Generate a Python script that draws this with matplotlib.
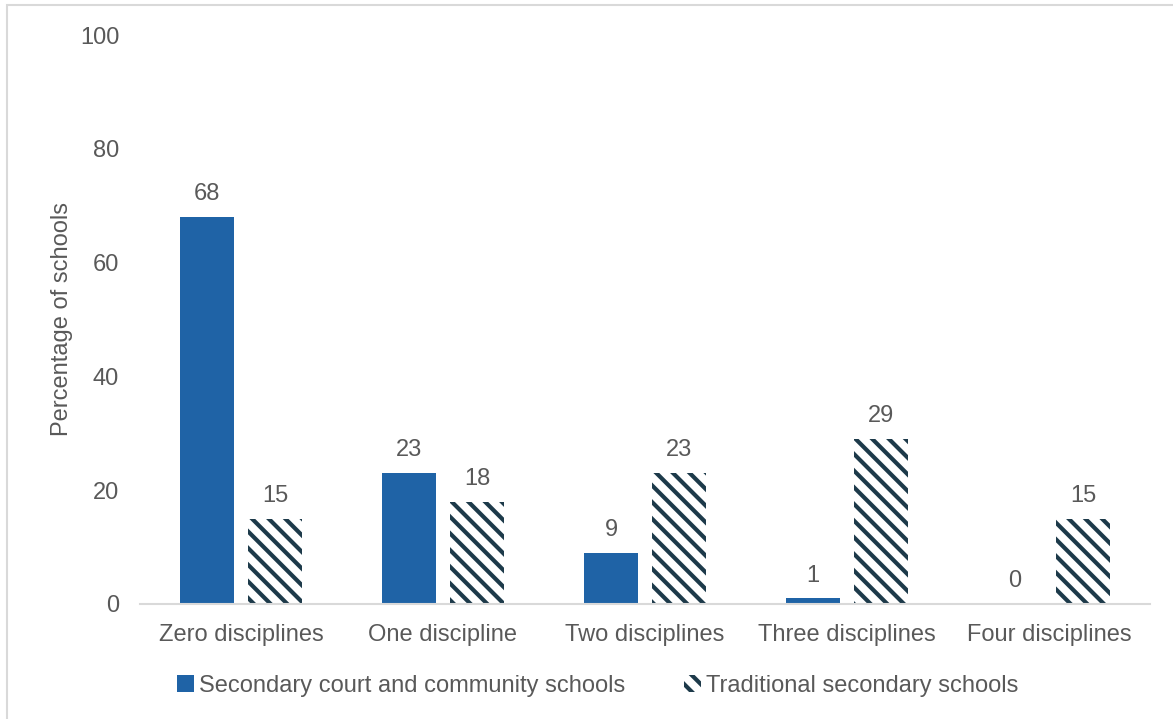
import numpy as np
import matplotlib.pyplot as plt
from matplotlib.patches import Rectangle

plt.rcParams['font.family'] = ['Liberation Sans', 'DejaVu Sans']
plt.rcParams['hatch.linewidth'] = 3.0

categories = ['Zero disciplines', 'One discipline', 'Two disciplines',
              'Three disciplines', 'Four disciplines']
court_community = [68, 23, 9, 1, 0]
traditional = [15, 18, 23, 29, 15]

grey = '#595959'
blue = '#1f63a6'
dark = '#1d3a4a'
fs = 17

fig = plt.figure(figsize=(11.73, 7.19), dpi=100)
ax = fig.add_axes([140/1173, 115/719, 1010/1173, 569/719])

x = np.arange(len(categories))
w = 0.27
off = 0.168
b1 = ax.bar(x - off, court_community, w, color=blue, linewidth=0,
            label='Secondary court and community schools')
b2 = ax.bar(x + off, traditional, w, facecolor='white', edgecolor=dark,
            hatch='\\\\', linewidth=0, label='Traditional secondary schools')

for bars, vals in ((b1, court_community), (b2, traditional)):
    for r, v in zip(bars, vals):
        ax.annotate(str(v), (r.get_x() + r.get_width() / 2, v),
                    xytext=(0, 8.5), textcoords='offset points',
                    ha='center', va='bottom', fontsize=fs, color=grey)

ax.set_xlim(-0.5, len(categories) - 0.5)
ax.set_ylim(0, 100)
ax.set_yticks(range(0, 101, 20))
ax.set_xticks(x)
ax.set_xticklabels(categories)
ax.tick_params(length=0, labelsize=fs, colors=grey)
ax.tick_params(axis='y', pad=15)
ax.tick_params(axis='x', pad=14.5)
for s in ['top', 'right', 'left']:
    ax.spines[s].set_visible(False)
ax.spines['bottom'].set_color('#d9d9d9')
ax.spines['bottom'].set_linewidth(1.5)
ax.set_ylabel('Percentage of schools', fontsize=fs, color=grey, labelpad=5)

fig.legend(loc='center', bbox_to_anchor=(598/1173, 1 - 686/719), ncol=2,
           frameon=False, fontsize=fs, handlelength=0.72, handleheight=0.72,
           handletextpad=0.2, columnspacing=2.5, labelcolor=grey)

# light frame around the chart area
fig.patches.append(Rectangle((7/1173, -0.1), 1.2, 1 - 5/719 + 0.1,
                             transform=fig.transFigure, fill=False,
                             edgecolor='#d9d9d9', linewidth=1.5))

fig.savefig('out.png', dpi=100)
